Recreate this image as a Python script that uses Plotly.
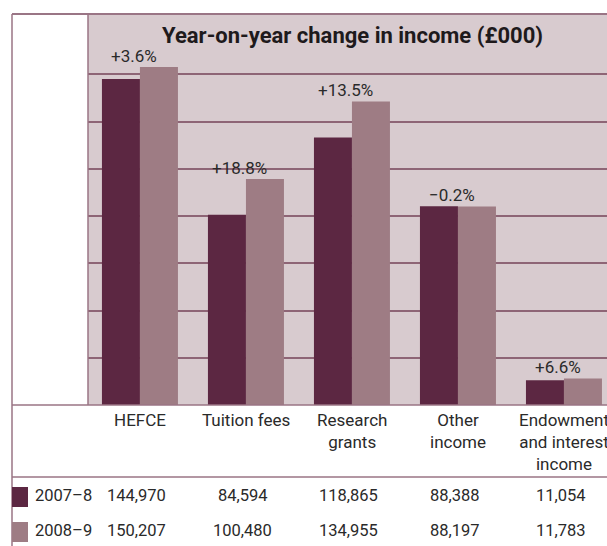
import plotly.graph_objects as go

# ---- data ----
categories = ["HEFCE", "Tuition fees", "Research grants", "Other income", "Endowment and interest income"]
category_labels = ["HEFCE", "Tuition fees", "Research<br>grants", "Other<br>income", "Endowment<br>and interest<br>income"]
series_names = ["2007\u20138", "2008\u20139"]
values_2007_8 = [144970, 84594, 118865, 88388, 11054]
values_2008_9 = [150207, 100480, 134955, 88197, 11783]
title_text = "Year-on-year change in income (\u00a3000)"

# ---- style ----
W, H = 607, 546
L, T, B = 88, 14, 141
PW, PH = W - L, H - T - B
C_DARK = "#5c2742"
C_LIGHT = "#9e7c84"
C_BG = "#d8cbcf"
C_GRID = "#8e6576"
C_FRAME = "#9a7585"
FONT = "Roboto, 'Liberation Sans', sans-serif"
TXT = "#2a2a2a"

def px2x(px):
    return (px - L) / PW

def py2y(py):
    return (T + PH - py) / PH

fig = go.Figure()
fig.add_trace(go.Bar(x=categories, y=values_2007_8, name=series_names[0],
                     marker=dict(color=C_DARK, line=dict(width=0))))
fig.add_trace(go.Bar(x=categories, y=values_2008_9, name=series_names[1],
                     marker=dict(color=C_LIGHT, line=dict(width=0))))

ymax = 173815
grid_step = 21000

annotations = []
# title
annotations.append(dict(text=title_text, xref="paper", yref="paper", x=px2x(352), y=py2y(35),
                        xanchor="center", yanchor="middle", showarrow=False,
                        font=dict(family=FONT, size=22, color="#1e1a1c", weight="bold")))
# percent change labels
for c, a, b in zip(categories, values_2007_8, values_2008_9):
    pct = (b - a) / a * 100
    s = f"{pct:+.1f}%".replace("-", "\u2212")
    annotations.append(dict(text=s, x=c, y=max(a, b), xref="x", yref="y",
                            xanchor="center", yanchor="bottom", yshift=-1, xshift=-6,
                            showarrow=False, font=dict(family=FONT, size=17, color=TXT)))
# category labels
for c, lab in zip(categories, category_labels):
    annotations.append(dict(text=lab, x=c, xref="x", yref="paper", y=py2y(408),
                            xanchor="center", yanchor="top", align="center", showarrow=False,
                            font=dict(family=FONT, size=17, color=TXT)))
# table rows
for row_y, name, vals in [(495, series_names[0], values_2007_8), (530, series_names[1], values_2008_9)]:
    annotations.append(dict(text=name, xref="paper", yref="paper", x=px2x(33), y=py2y(row_y),
                            xanchor="left", yanchor="middle", showarrow=False,
                            font=dict(family=FONT, size=16.5, color=TXT)))
    for c, v in zip(categories, vals):
        annotations.append(dict(text=f"{v:,}", x=c, xref="x", yref="paper", y=py2y(row_y),
                                xanchor="center", yanchor="middle", xshift=-3, showarrow=False,
                                font=dict(family=FONT, size=16.5, color=TXT)))

shapes = [
    dict(type="line", xref="paper", yref="paper", x0=px2x(12), x1=px2x(W), y0=py2y(14), y1=py2y(14),
         line=dict(color=C_FRAME, width=2)),
    dict(type="line", xref="paper", yref="paper", x0=px2x(12), x1=px2x(12), y0=py2y(14), y1=py2y(H),
         line=dict(color=C_FRAME, width=1.5)),
    dict(type="line", xref="paper", yref="paper", x0=px2x(88), x1=px2x(88), y0=py2y(14), y1=py2y(405),
         line=dict(color=C_FRAME, width=1.5)),
    dict(type="line", xref="paper", yref="paper", x0=px2x(12), x1=px2x(W), y0=py2y(405), y1=py2y(405),
         line=dict(color=C_FRAME, width=1.5)),
    dict(type="line", xref="paper", yref="paper", x0=px2x(12), x1=px2x(W), y0=py2y(477), y1=py2y(477),
         line=dict(color=C_FRAME, width=1.5)),
    dict(type="rect", xref="paper", yref="paper", x0=px2x(12), x1=px2x(28), y0=py2y(507), y1=py2y(487),
         fillcolor=C_DARK, line=dict(width=0)),
    dict(type="rect", xref="paper", yref="paper", x0=px2x(12), x1=px2x(28), y0=py2y(542), y1=py2y(522),
         fillcolor=C_LIGHT, line=dict(width=0)),
]

fig.update_layout(
    width=W, height=H,
    margin=dict(l=L, r=0, t=T, b=B, pad=0),
    paper_bgcolor="white", plot_bgcolor=C_BG,
    barmode="group", bargap=0.283, bargroupgap=0,
    showlegend=False,
    xaxis=dict(range=[-0.49, 4.406], showticklabels=False, showgrid=False, zeroline=False,
               showline=False, ticks=""),
    yaxis=dict(range=[0, ymax], tickmode="array",
               tickvals=list(range(0, 150000, grid_step)),
               showticklabels=False, showgrid=True, gridcolor=C_GRID, gridwidth=1.5,
               zeroline=False, showline=False, ticks=""),
    annotations=annotations, shapes=shapes,
    font=dict(family=FONT, color=TXT),
)

fig.write_html("out.html")
